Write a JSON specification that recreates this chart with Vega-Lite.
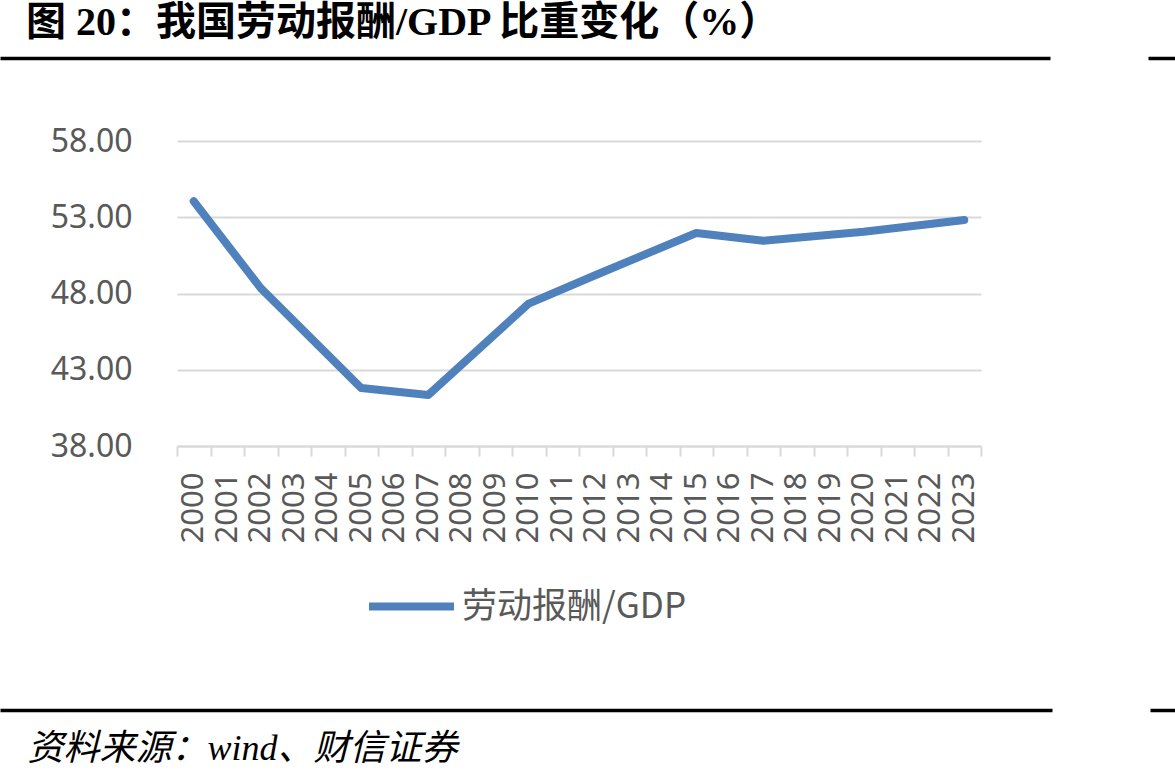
{
  "$schema": "https://vega.github.io/schema/vega-lite/v6.json",
  "width": 804,
  "height": 305,
  "autosize": {"type": "none"},
  "padding": {"left": 177, "top": 141, "right": 194, "bottom": 331},
  "background": "#ffffff",
  "title": {
    "text": "图 20：我国劳动报酬/GDP 比重变化（%）",
    "anchor": "start",
    "frame": "group",
    "offset": 15,
    "dx": -151,
    "font": "Liberation Serif, Noto Sans CJK SC",
    "fontSize": 40,
    "fontWeight": "bold",
    "color": "#000000"
  },
  "data": {
    "values": [
      {"year": "2000", "share": 54.05, "series": "劳动报酬/GDP"},
      {"year": "2002", "share": 48.35, "series": "劳动报酬/GDP"},
      {"year": "2005", "share": 41.8, "series": "劳动报酬/GDP"},
      {"year": "2007", "share": 41.34, "series": "劳动报酬/GDP"},
      {"year": "2010", "share": 47.34, "series": "劳动报酬/GDP"},
      {"year": "2012", "share": 49.21, "series": "劳动报酬/GDP"},
      {"year": "2015", "share": 51.97, "series": "劳动报酬/GDP"},
      {"year": "2017", "share": 51.46, "series": "劳动报酬/GDP"},
      {"year": "2020", "share": 52.05, "series": "劳动报酬/GDP"},
      {"year": "2023", "share": 52.82, "series": "劳动报酬/GDP"}
    ]
  },
  "layer": [
    {
      "mark": {"type": "line", "strokeWidth": 8, "strokeCap": "round", "strokeJoin": "round"},
      "encoding": {
        "x": {
          "field": "year",
          "type": "ordinal",
          "scale": {
            "type": "band",
            "paddingInner": 0,
            "paddingOuter": 0,
            "domain": ["2000", "2001", "2002", "2003", "2004", "2005", "2006", "2007", "2008", "2009", "2010", "2011", "2012", "2013", "2014", "2015", "2016", "2017", "2018", "2019", "2020", "2021", "2022", "2023"]
          },
          "axis": {
            "orient": "bottom",
            "tickBand": "extent",
            "tickSize": 10,
            "tickWidth": 2,
            "tickColor": "#d9d9d9",
            "domainColor": "#d9d9d9",
            "domainWidth": 2,
            "grid": false,
            "labelAngle": 270,
            "labelFont": "Noto Sans",
            "labelFontSize": 31,
            "labelColor": "#595959",
            "labelPadding": 16,
            "title": "资料来源：wind、财信证券",
            "titleFont": "Liberation Serif, Noto Sans CJK SC",
            "titleFontSize": 36,
            "titleFontStyle": "italic",
            "titleFontWeight": "normal",
            "titleColor": "#000000",
            "titleAngle": 0,
            "titleAlign": "left",
            "titleAnchor": "start",
            "titleBaseline": "alphabetic",
            "titleX": -150,
            "titleY": 313
          }
        },
        "y": {
          "field": "share",
          "type": "quantitative",
          "scale": {"domain": [38, 58], "nice": false, "zero": false},
          "axis": {
            "values": [38, 43, 48, 53, 58],
            "format": ".2f",
            "domain": false,
            "ticks": false,
            "grid": true,
            "gridColor": "#d9d9d9",
            "gridWidth": 2,
            "labelFont": "Noto Sans",
            "labelFontSize": 32,
            "labelColor": "#595959",
            "labelPadding": 45,
            "title": null
          }
        },
        "color": {
          "field": "series",
          "type": "nominal",
          "scale": {"range": ["#4f81bd"]},
          "legend": {
            "orient": "none",
            "legendX": 188,
            "legendY": 419,
            "title": null,
            "padding": 0,
            "symbolType": "stroke",
            "symbolSize": 7225,
            "symbolStrokeWidth": 8,
            "labelFont": "Noto Sans CJK SC",
            "labelFontSize": 35,
            "labelColor": "#595959",
            "labelOffset": 4,
            "labelLimit": 400
          }
        }
      }
    },
    {
      "mark": {"type": "rule", "opacity": 0},
      "encoding": {
        "x": {
          "field": "year",
          "type": "ordinal",
          "scale": {"type": "point", "range": [-177, 873]},
          "axis": {"orient": "top", "offset": 83, "domainColor": "#000000", "domainWidth": 3.5, "ticks": false, "labels": false, "grid": false, "title": null}
        }
      }
    },
    {
      "mark": {"type": "rule", "opacity": 0},
      "encoding": {
        "x": {
          "field": "year",
          "type": "ordinal",
          "scale": {"type": "point", "range": [971, 998]},
          "axis": {"orient": "top", "offset": 83, "domainColor": "#000000", "domainWidth": 3.5, "ticks": false, "labels": false, "grid": false, "title": null}
        }
      }
    },
    {
      "mark": {"type": "rule", "opacity": 0},
      "encoding": {
        "x": {
          "field": "year",
          "type": "ordinal",
          "scale": {"type": "point", "range": [-177, 875]},
          "axis": {"orient": "bottom", "offset": 264, "domainColor": "#000000", "domainWidth": 3.5, "ticks": false, "labels": false, "grid": false, "title": null}
        }
      }
    },
    {
      "mark": {"type": "rule", "opacity": 0},
      "encoding": {
        "x": {
          "field": "year",
          "type": "ordinal",
          "scale": {"type": "point", "range": [973, 998]},
          "axis": {"orient": "bottom", "offset": 264, "domainColor": "#000000", "domainWidth": 3.5, "ticks": false, "labels": false, "grid": false, "title": null}
        }
      }
    }
  ],
  "resolve": {"scale": {"x": "independent"}, "axis": {"x": "independent"}},
  "config": {"view": {"stroke": null}}
}
